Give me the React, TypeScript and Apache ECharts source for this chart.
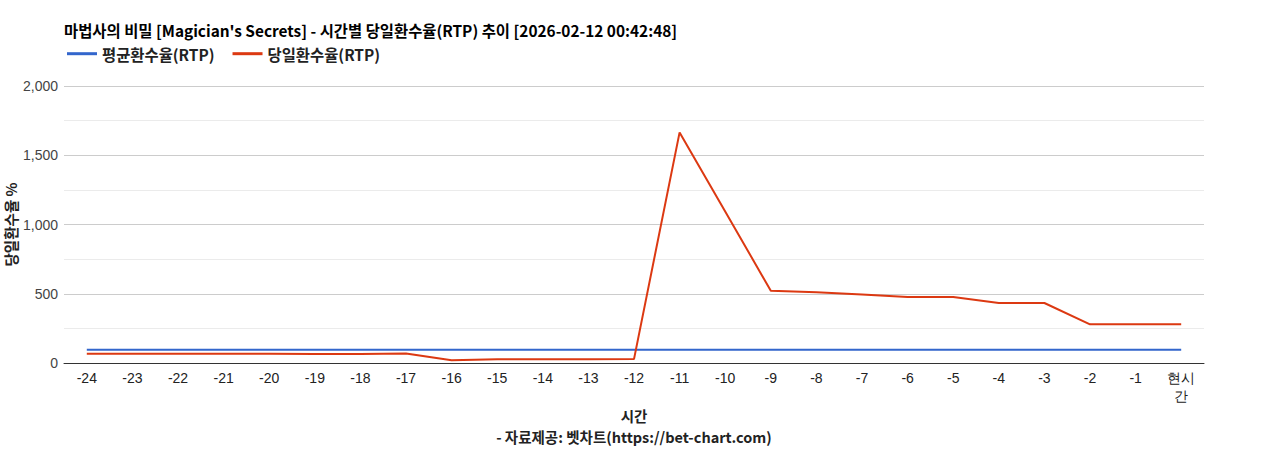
import React, { useEffect, useRef } from "react";
import * as echarts from "echarts";

const titleText = "마법사의 비밀 [Magician's Secrets] - 시간별 당일환수율(RTP) 추이 [2026-02-12 00:42:48]";
const categories = ["-24","-23","-22","-21","-20","-19","-18","-17","-16","-15","-14","-13","-12","-11","-10","-9","-8","-7","-6","-5","-4","-3","-2","-1","현시간"];
const avgName = "평균환수율(RTP)";
const dayName = "당일환수율(RTP)";
const avgValues = [96,96,96,96,96,96,96,96,96,96,96,96,96,96,96,96,96,96,96,96,96,96,96,96,96];
const dayValues = [67,67,67,67,67,65,65,68,20,27,27,27,28,1665,1094,522,510,495,476,476,433,433,279,279,279];
const yTicks = [0, 500, 1000, 1500, 2000];

const cjk = "'Noto Sans CJK KR', 'Noto Sans', sans-serif";
const latin = "'Liberation Sans', Arial, sans-serif";

export default function App() {
  const ref = useRef<HTMLDivElement>(null);
  useEffect(() => {
    if (!ref.current) return;
    const chart = echarts.init(ref.current, undefined, { renderer: "svg" });
    chart.setOption({
      animation: false,
      backgroundColor: "#ffffff",
      title: {
        text: titleText,
        left: 59,
        top: 17,
        textStyle: { fontFamily: cjk, fontSize: 15.4, fontWeight: "bold", color: "#000" },
      },
      legend: {
        left: 62,
        top: 41,
        itemWidth: 30,
        itemHeight: 3,
        itemGap: 18,
        icon: "rect",
        textStyle: { fontFamily: cjk, fontSize: 15.4, fontWeight: "bold", color: "#222" },
        data: [avgName, dayName],
      },
      grid: { left: 64, right: 64, top: 86, bottom: 87, containLabel: false, outerBoundsMode: "none" },
      xAxis: {
        type: "category",
        data: categories,
        boundaryGap: true,
        name: "시간",
        nameLocation: "middle",
        nameGap: 45,
        nameMoveOverlap: false,
        nameTextStyle: { fontFamily: cjk, fontSize: 14.5, fontWeight: "bold", color: "#222" },
        axisLine: { show: true, lineStyle: { color: "#333", width: 1 } },
        axisTick: { show: false },
        axisLabel: {
          interval: 0,
          margin: 6,
          fontFamily: latin,
          fontSize: 14,
          color: "#222",
          lineHeight: 18,
          formatter: (v: string) => (v === "현시간" ? "현시\n간" : v),
        },
      },
      yAxis: {
        type: "value",
        min: 0,
        max: 2000,
        interval: 500,
        name: "당일환수율 %",
        nameLocation: "middle",
        nameGap: 46,
        nameMoveOverlap: false,
        nameRotate: 90,
        nameTextStyle: { fontFamily: cjk, fontSize: 14.5, fontWeight: "bold", color: "#222" },
        axisLine: { show: false },
        axisTick: { show: false },
        axisLabel: {
          margin: 6,
          fontFamily: latin,
          fontSize: 14,
          color: "#444",
          formatter: (v: number) => (yTicks.includes(v) ? v.toLocaleString("en-US") : ""),
        },
        splitLine: { show: true, lineStyle: { color: "#cccccc", width: 1 } },
        minorTick: { show: false, splitNumber: 2 },
        minorSplitLine: { show: true, lineStyle: { color: "#ebebeb", width: 1 } },
      },
      graphic: [
        {
          type: "text",
          left: "center",
          top: 429,
          style: {
            text: "- 자료제공: 벳차트(https://bet-chart.com)",
            fontFamily: cjk,
            fontSize: 14.5,
            fontWeight: "bold",
            fill: "#222",
          },
        },
      ],
      series: [
        {
          name: avgName,
          type: "line",
          data: avgValues,
          symbol: "none",
          lineStyle: { color: "#3366cc", width: 2 },
          itemStyle: { color: "#3366cc" },
        },
        {
          name: dayName,
          type: "line",
          data: dayValues,
          symbol: "none",
          lineStyle: { color: "#dc3912", width: 2 },
          itemStyle: { color: "#dc3912" },
        },
      ],
    });
    return () => chart.dispose();
  }, []);
  return (
    <div
      ref={ref}
      style={{ position: "fixed", left: 0, top: 0, width: 1268, height: 450 }}
    />
  );
}
